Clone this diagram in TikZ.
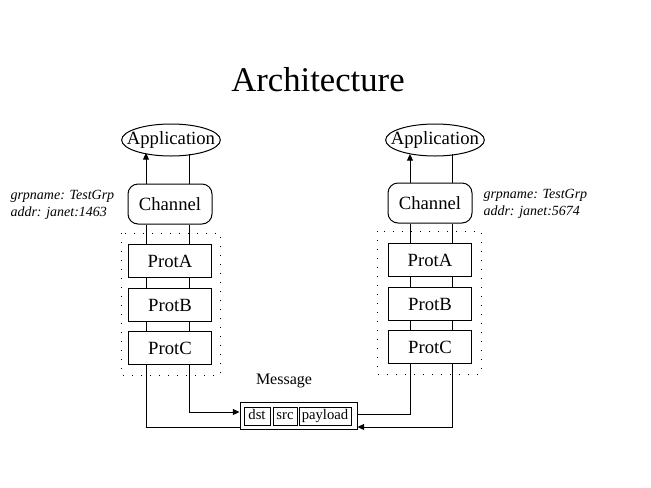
\documentclass[tikz,border=0pt]{standalone}
\usepackage{fontspec}
\setmainfont{Liberation Serif}
\usetikzlibrary{shapes.geometric,arrows.meta}
\begin{document}
\begin{tikzpicture}[x=0.75pt,y=-0.75pt,
  line width=0.75pt,
  arr/.style={-{Triangle[length=5pt,width=4.5pt]}},
  apptext/.style={inner sep=0pt,font=\fontsize{14}{16}\selectfont},
  appshape/.style={draw,x radius=37pt,y radius=12pt},
  chnode/.style={draw,rectangle,rounded corners=7.5pt,inner sep=0pt,minimum width=63pt,minimum height=30pt,font=\fontsize{14}{16}\selectfont},
  protnode/.style={draw,rectangle,inner sep=0pt,minimum width=62.25pt,minimum height=24.75pt,font=\fontsize{14}{16}\selectfont},
  fieldnode/.style={draw,rectangle,inner sep=0pt,minimum height=13.5pt,text height=7.5pt,text depth=2.2pt,font=\fontsize{11}{13}\selectfont},
  annot/.style={anchor=west,align=left,inner sep=0pt,font=\fontsize{10.5}{12.75}\selectfont\itshape},
  stackbox/.style={dash pattern=on 0.75pt off 6pt}
]
\useasboundingbox[fill=white] (0,0) rectangle (651,487);

\node (title) at (318,80) {\fontsize{26}{30}\selectfont Architecture};

% left stack
\node[apptext] (App1) at (171,140) {Application};
\draw[appshape] (App1.center) ellipse [];
\node[chnode] (Ch1) at (170,204) {Channel};
\node[protnode] (A1) at (170,261) {ProtA};
\node[protnode] (B1) at (170,305) {ProtB};
\node[protnode] (C1) at (170,348) {ProtC};
\draw[stackbox] (121,233) rectangle (220,375);
\node[annot] (ann1) at (10,204.5) {grpname: TestGrp\\addr: janet:1463};

% right stack
\node[apptext] (App2) at (435,140) {Application};
\draw[appshape] (App2.center) ellipse [];
\node[chnode] (Ch2) at (430,203) {Channel};
\node[protnode] (A2) at (430,260) {ProtA};
\node[protnode] (B2) at (430,304) {ProtB};
\node[protnode] (C2) at (430,347) {ProtC};
\draw[stackbox] (377,231) rectangle (481,374);
\node[annot] (ann2) at (483,203.5) {grpname: TestGrp\\addr: janet:5674};

% message
\node (msglabel) at (284,381) {\fontsize{12}{14}\selectfont Message};
\node[draw,rectangle,inner sep=0pt,minimum width=87.75pt,minimum height=20.25pt] (Msg) at (298.5,415.5) {};
\node[fieldnode,minimum width=19.5pt] (dst) at (257,416) {dst};
\node[fieldnode,minimum width=18pt] (src) at (285,416) {src};
\node[fieldnode,minimum width=39pt] (payload) at (325,416) {payload};

% points where the lines meet the ellipses
\coordinate (App1l) at (146,153);
\coordinate (App1r) at (189,154);
\coordinate (App2l) at (410,154);
\coordinate (App2r) at (452,154);

% x positions of the two lines in each stack
\coordinate (l1) at (146,0);
\coordinate (r1) at (189,0);
\coordinate (l2) at (410,0);
\coordinate (r2) at (452,0);
\coordinate (ya) at (0,412);
\coordinate (yb) at (0,414);
\coordinate (yc) at (0,427);

% left stack lines
\draw[arr] (Ch1.north -| l1) -- (App1l);
\draw (Ch1.north -| r1) -- (App1r);
\draw (Ch1.south -| l1) -- (A1.north -| l1);
\draw (Ch1.south -| r1) -- (A1.north -| r1);
\draw (A1.south -| l1) -- (B1.north -| l1);
\draw (A1.south -| r1) -- (B1.north -| r1);
\draw (B1.south -| l1) -- (C1.north -| l1);
\draw (B1.south -| r1) -- (C1.north -| r1);
\draw (C1.south -| l1) -- (l1 |- yc) -- (Msg.west |- yc);
\draw[arr] (C1.south -| r1) -- (r1 |- ya) -- (Msg.west |- ya);

% right stack lines
\draw[arr] (Ch2.north -| l2) -- (App2l);
\draw (Ch2.north -| r2) -- (App2r);
\draw (Ch2.south -| l2) -- (A2.north -| l2);
\draw (Ch2.south -| r2) -- (A2.north -| r2);
\draw (A2.south -| l2) -- (B2.north -| l2);
\draw (A2.south -| r2) -- (B2.north -| r2);
\draw (B2.south -| l2) -- (C2.north -| l2);
\draw (B2.south -| r2) -- (C2.north -| r2);
\draw (Msg.east |- yb) -- (l2 |- yb) -- (C2.south -| l2);
\draw[arr] (C2.south -| r2) -- (r2 |- yc) -- (Msg.east |- yc);
\end{tikzpicture}
\end{document}
